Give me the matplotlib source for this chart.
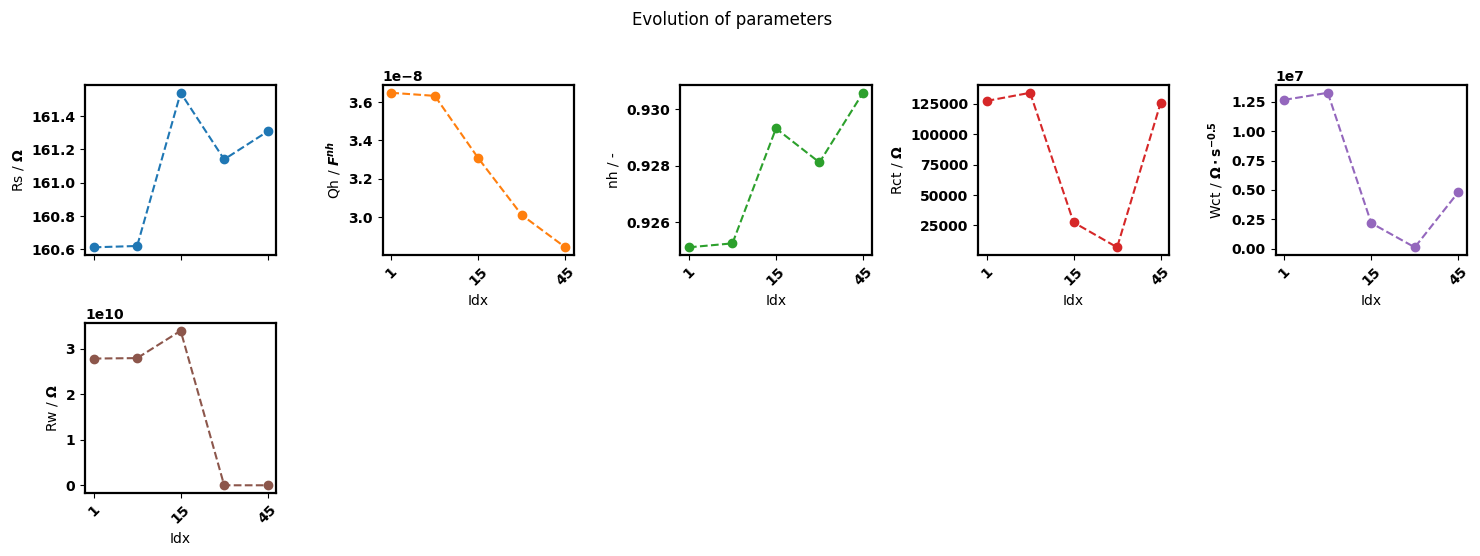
import matplotlib.pyplot as plt

###### DATA ######
idx = [0, 1, 2, 3, 4]  # measurement order
tick_pos = [0, 2, 4]
tick_labels = ["1", "15", "45"]

Rs = [160.612, 160.620, 161.540, 161.140, 161.308]
Qh = [3.648e-8, 3.632e-8, 3.307e-8, 3.011e-8, 2.843e-8]
nh = [0.92512, 0.92526, 0.92932, 0.92812, 0.93058]
Rct = [127500, 134200, 27500, 7000, 125800]
Wct = [1.267e7, 1.327e7, 0.218e7, 0.012e7, 0.481e7]
Rw = [2.78e10, 2.79e10, 3.39e10, 0.0, 0.0]

params = [Rs, Qh, nh, Rct, Wct, Rw]
ylabels = [r"Rs / $\mathbf{\Omega}$",
           r"Qh / $\mathbfit{F^{nh}}$",
           "nh / -",
           r"Rct / $\mathbf{\Omega}$",
           r"Wct / $\mathbf{\Omega \cdot s^{-0.5}}$",
           r"Rw / $\mathbf{\Omega}$"]
colors = ["tab:blue", "tab:orange", "tab:green", "tab:red", "tab:purple", "tab:brown"]
##################

fig, axes = plt.subplots(2, 5, figsize=(14.8, 5.56), dpi=100)
fig.subplots_adjust(left=0.0574, right=0.9912, top=0.847, bottom=0.1133,
                    wspace=0.555, hspace=0.4)
fig.suptitle("Evolution of parameters", x=0.4946)

flat = axes.flatten()
for i in range(6):
    ax = flat[i]
    ax.plot(idx, params[i], "o--", color=colors[i])
    ax.set_ylabel(ylabels[i])
    ax.set_xticks(tick_pos)
    ax.set_xticklabels(tick_labels, rotation=45)
    for lbl in ax.get_xticklabels() + ax.get_yticklabels():
        lbl.set_fontweight("bold")
    ax.yaxis.get_offset_text().set_fontweight("bold")
    for sp in ax.spines.values():
        sp.set_linewidth(1.6)
    if i == 0:
        ax.tick_params(labelbottom=False)
    else:
        ax.set_xlabel("Idx")

for ax in flat[6:]:
    ax.remove()

plt.savefig("out.png")
